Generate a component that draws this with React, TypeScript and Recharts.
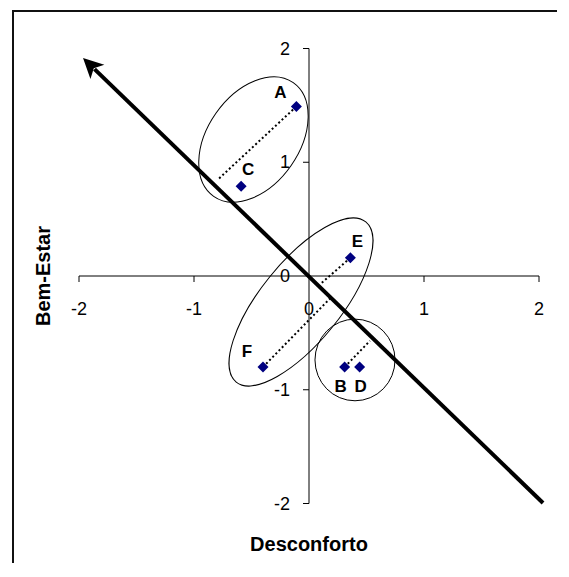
import React from 'react';
import { ScatterChart, Scatter, XAxis, YAxis, ReferenceLine, ReferenceDot } from 'recharts';

// ---- data ----
const pointNames = ['A', 'C', 'E', 'F', 'B', 'D'];
const desconforto = [-0.11, -0.59, 0.36, -0.4, 0.31, 0.44];
const bemEstar = [1.49, 0.79, 0.16, -0.8, -0.8, -0.8];

const xTicks = [-2, -1, 0, 1, 2];
const yTicks = [-2, -1, 0, 1, 2];
const xTitle = 'Desconforto';
const yTitle = 'Bem-Estar';

// dotted projection lines: from named point to end point
const dottedFrom = ['A', 'E', 'F', 'B'];
const dottedToX = [-0.79, 0.1, 0.19, 0.53];
const dottedToY = [0.85, -0.07, -0.19, -0.57];

// ellipses: major-axis end points and minor/major ratio
const ellipseStartX = [-0.829, -0.633, 0.052];
const ellipseStartY = [0.7, -0.932, -0.738];
const ellipseEndX = [-0.137, 0.494, 0.748];
const ellipseEndY = [1.7, 0.475, -0.738];
const ellipseRatio = [0.66, 0.39, 1.02];

// thick arrow
const arrowStart = { x: 2.035, y: -1.996 };
const arrowEnd = { x: -1.965, y: 1.917 };

// ---- styling ----
const FONT = '"Liberation Sans", Arial, Helvetica, sans-serif';
const labelOffsets: Record<string, [number, number]> = {
  A: [-16, -14],
  C: [7, -17],
  E: [7, -16],
  F: [-16, -16],
  B: [-4, 19],
  D: [1, 19],
};

const points = pointNames.map((n, i) => ({ name: n, x: desconforto[i], y: bemEstar[i] }));

const DiamondShape = (props: any) => {
  const { cx, cy, payload } = props;
  if (cx == null || cy == null) return null;
  const s = 5.5;
  const off = labelOffsets[payload.name] || [0, -15];
  return (
    <g>
      <polygon
        points={`${cx},${cy - s} ${cx + s},${cy} ${cx},${cy + s} ${cx - s},${cy}`}
        fill="#000080"
      />
      <text
        x={cx + off[0]}
        y={cy + off[1]}
        textAnchor="middle"
        dominantBaseline="central"
        fontFamily={FONT}
        fontWeight="bold"
        fontSize={17}
        fill="#000"
      >
        {payload.name}
      </text>
    </g>
  );
};

const ArrowShape = (p: any) => {
  const { x1, y1, x2, y2 } = p;
  const dx = x2 - x1;
  const dy = y2 - y1;
  const len = Math.hypot(dx, dy);
  const ux = dx / len;
  const uy = dy / len;
  const head = 20;
  const half = 10;
  const bx = x2 - ux * head;
  const by = y2 - uy * head;
  const px = -uy;
  const py = ux;
  return (
    <g>
      <line x1={x1} y1={y1} x2={bx + ux * 4} y2={by + uy * 4} stroke="#000" strokeWidth={4} />
      <polygon
        points={`${x2},${y2} ${bx + px * half},${by + py * half} ${bx + ux * 5},${by + uy * 5} ${bx - px * half},${by - py * half}`}
        fill="#000"
      />
    </g>
  );
};

const makeEllipseShape = (ratio: number) => (p: any) => {
  const { x1, y1, x2, y2 } = p;
  const cx = (x1 + x2) / 2;
  const cy = (y1 + y2) / 2;
  const rx = Math.hypot(x2 - x1, y2 - y1) / 2;
  const ry = rx * ratio;
  const ang = (Math.atan2(y2 - y1, x2 - x1) * 180) / Math.PI;
  return (
    <ellipse
      cx={cx}
      cy={cy}
      rx={rx}
      ry={ry}
      transform={`rotate(${ang} ${cx} ${cy})`}
      fill="none"
      stroke="#000"
      strokeWidth={1}
    />
  );
};

const DottedShape = (p: any) => (
  <line x1={p.x1} y1={p.y1} x2={p.x2} y2={p.y2} stroke="#000" strokeWidth={2} strokeDasharray="2 2.5" />
);

const makeXTick = (v: number) => (p: any) => {
  const { cx, cy } = p;
  return (
    <g>
      {v !== 0 && <line x1={cx} y1={cy} x2={cx} y2={cy + 6} stroke="#000" strokeWidth={1} />}
      <text
        x={cx}
        y={cy + 33}
        textAnchor="middle"
        dominantBaseline="central"
        fontFamily={FONT}
        fontSize={18}
        fill="#000"
      >
        {v}
      </text>
    </g>
  );
};

const makeYTick = (v: number) => (p: any) => {
  const { cx, cy } = p;
  return (
    <g>
      {v !== 0 && <line x1={cx - 6} y1={cy} x2={cx} y2={cy} stroke="#000" strokeWidth={1} />}
      <text
        x={cx - 19}
        y={cy}
        textAnchor="end"
        dominantBaseline="central"
        fontFamily={FONT}
        fontSize={18}
        fill="#000"
      >
        {v}
      </text>
    </g>
  );
};

export default function App() {
  return (
    <div style={{ position: 'relative', width: 545, height: 555 }}>
      <div
        style={{
          position: 'absolute',
          left: 4,
          top: 2,
          width: 545,
          height: 553,
          borderTop: '2px solid #111',
          borderLeft: '2px solid #111',
          boxSizing: 'border-box',
        }}
      />
      <div style={{ position: 'absolute', left: 0, top: 0 }}>
        <ScatterChart width={545} height={555} margin={{ top: 40.5, right: 14, bottom: 59.5, left: 71 }}>
          <XAxis type="number" dataKey="x" domain={[-2, 2]} allowDataOverflow hide />
          <YAxis type="number" dataKey="y" domain={[-2, 2]} allowDataOverflow hide />

          {ellipseStartX.map((_, i) => (
            <ReferenceLine
              key={'el' + i}
              segment={[
                { x: ellipseStartX[i], y: ellipseStartY[i] },
                { x: ellipseEndX[i], y: ellipseEndY[i] },
              ]}
              ifOverflow="visible"
              shape={makeEllipseShape(ellipseRatio[i])}
            />
          ))}

          <ReferenceLine y={0} stroke="#000" strokeWidth={1} ifOverflow="visible" />
          <ReferenceLine x={0} stroke="#000" strokeWidth={1} ifOverflow="visible" />

          {xTicks.map((v) => (
            <ReferenceDot key={'xt' + v} x={v} y={0} r={0} ifOverflow="visible" shape={makeXTick(v)} />
          ))}
          {yTicks.map((v) => (
            <ReferenceDot key={'yt' + v} x={0} y={v} r={0} ifOverflow="visible" shape={makeYTick(v)} />
          ))}

          {dottedFrom.map((n, i) => {
            const idx = pointNames.indexOf(n);
            return (
              <ReferenceLine
                key={'dl' + n}
                segment={[
                  { x: desconforto[idx], y: bemEstar[idx] },
                  { x: dottedToX[i], y: dottedToY[i] },
                ]}
                ifOverflow="visible"
                shape={DottedShape}
              />
            );
          })}

          <ReferenceLine
            segment={[arrowStart, arrowEnd]}
            ifOverflow="visible"
            shape={ArrowShape}
          />

          <Scatter data={points} isAnimationActive={false} shape={DiamondShape} />
        </ScatterChart>
      </div>
      <div
        style={{
          position: 'absolute',
          left: 0,
          width: 602,
          top: 524,
          textAlign: 'center',
          fontFamily: FONT,
          fontWeight: 'bold',
          fontSize: 20,
          lineHeight: '24px',
          color: '#000',
        }}
      >
        {xTitle}
      </div>
      <div
        style={{
          position: 'absolute',
          left: 35,
          top: 268,
          width: 0,
          height: 0,
        }}
      >
        <div
          style={{
            position: 'absolute',
            left: -100,
            top: -12,
            width: 200,
            textAlign: 'center',
            transform: 'rotate(-90deg)',
            fontFamily: FONT,
            fontWeight: 'bold',
            fontSize: 20,
            lineHeight: '24px',
            color: '#000',
          }}
        >
          {yTitle}
        </div>
      </div>
    </div>
  );
}
